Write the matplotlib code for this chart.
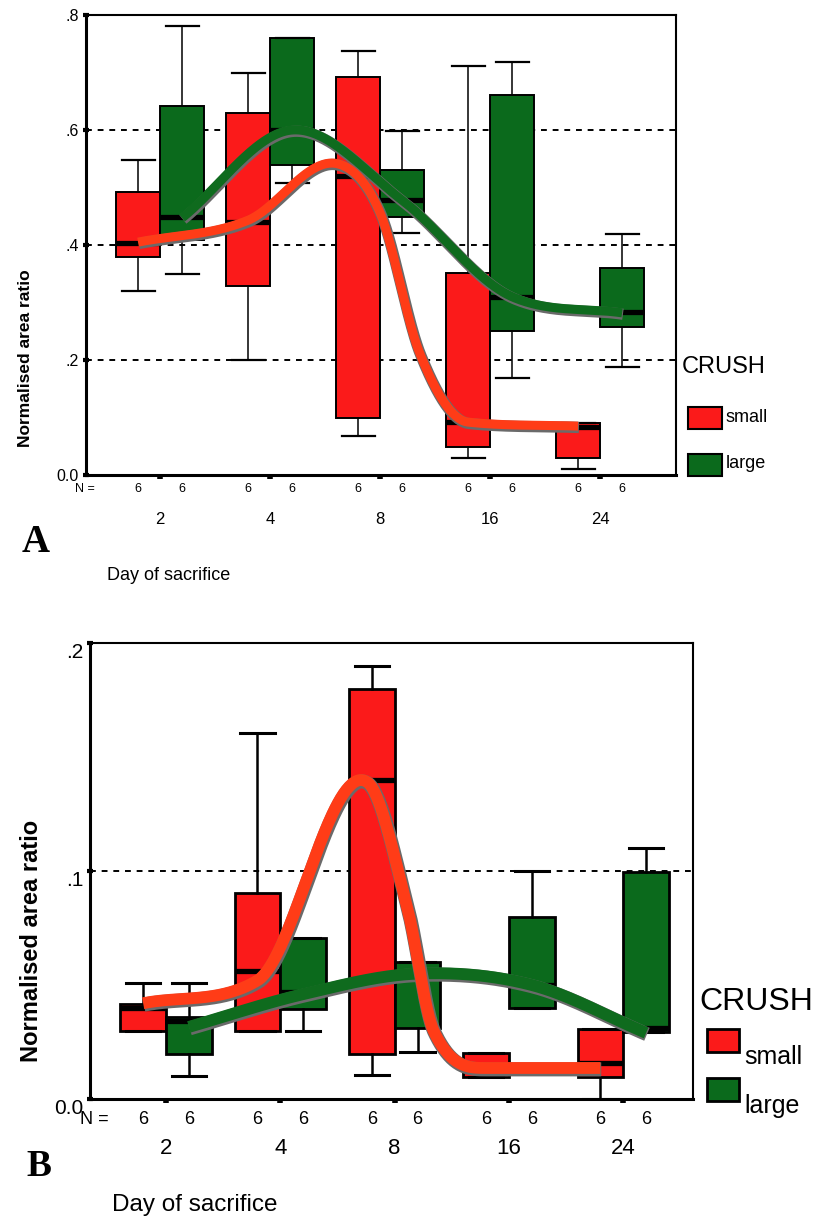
import numpy as np
import matplotlib
matplotlib.use('Agg')
import matplotlib.pyplot as plt
import matplotlib.patheffects as pe
from matplotlib.patches import Rectangle

plt.rcParams['font.family'] = ['Liberation Sans', 'DejaVu Sans']

W, H = 814, 1219

days = ['2', '4', '8', '16', '24']
n_small = [6, 6, 6, 6, 6]
n_large = [6, 6, 6, 6, 6]

# panel A box stats: whisker low, q1, median, q3, whisker high
a_small_lo = [0.32, 0.20, 0.068, 0.03, 0.01]
a_small_q1 = [0.379, 0.329, 0.10, 0.049, 0.03]
a_small_med = [0.403, 0.44, 0.52, 0.092, 0.083]
a_small_q3 = [0.492, 0.63, 0.692, 0.352, 0.09]
a_small_hi = [0.548, 0.70, 0.738, 0.711, 0.09]

a_large_lo = [0.35, 0.508, 0.421, 0.169, 0.188]
a_large_q1 = [0.409, 0.54, 0.449, 0.25, 0.258]
a_large_med = [0.449, 0.60, 0.478, 0.31, 0.283]
a_large_q3 = [0.642, 0.76, 0.53, 0.661, 0.36]
a_large_hi = [0.781, 0.76, 0.598, 0.718, 0.42]

# panel B box stats
b_small_lo = [0.030, 0.030, 0.0105, 0.0096, 0.0]
b_small_q1 = [0.030, 0.030, 0.0197, 0.0096, 0.0096]
b_small_med = [0.040, 0.056, 0.140, 0.013, 0.0158]
b_small_q3 = [0.0417, 0.0904, 0.180, 0.020, 0.0307]
b_small_hi = [0.051, 0.1605, 0.190, 0.020, 0.0307]

b_large_lo = [0.010, 0.030, 0.0206, 0.040, 0.0294]
b_large_q1 = [0.0197, 0.0395, 0.031, 0.040, 0.0294]
b_large_med = [0.034, 0.047, 0.055, 0.050, 0.031]
b_large_q3 = [0.036, 0.0706, 0.060, 0.080, 0.0996]
b_large_hi = [0.051, 0.0706, 0.060, 0.100, 0.110]

# trend curves (x in day-group units)
a_small_fit_x = [0.8, 1.8, 2.62, 3.0, 3.36, 3.8, 4.8]
a_small_fit_y = [0.405, 0.443, 0.541, 0.456, 0.212, 0.092, 0.085]
a_large_fit_x = [1.2, 2.2, 3.2, 4.2, 5.2]
a_large_fit_y = [0.447, 0.60, 0.478, 0.31, 0.282]
b_small_fit_x = [0.8, 1.8, 2.76, 3.11, 3.34, 3.8, 4.8]
b_small_fit_y = [0.042, 0.052, 0.139, 0.084, 0.030, 0.0136, 0.0136]
b_large_fit_x = [1.2, 2.2, 3.2, 4.2, 5.2]
b_large_fit_y = [0.0316, 0.046, 0.055, 0.050, 0.029]

RED = '#fb1a1a'
GREEN = '#0b6a1c'
RED_LINE = '#ff3c17'
GREEN_LINE = '#0f6b1e'


def smooth(xk, yk, n=80):
    # cubic hermite: catmull-rom tangents, clamped on monotone runs
    xk = np.asarray(xk, float)
    yk = np.asarray(yk, float)
    d = np.diff(yk) / np.diff(xk)
    m = np.empty_like(yk)
    m[0], m[-1] = d[0], d[-1]
    for i in range(1, len(yk) - 1):
        a, b = d[i - 1], d[i]
        if a == 0 or b == 0:
            m[i] = 0.0
        elif a * b < 0:
            m[i] = (a + b) / 2
        else:
            lim = 3 * min(abs(a), abs(b))
            m[i] = np.sign(a) * min(abs(a + b) / 2, lim)
    xs, ys = [], []
    t = np.linspace(0, 1, n)
    for i in range(len(xk) - 1):
        h = xk[i + 1] - xk[i]
        h00 = 2 * t**3 - 3 * t**2 + 1
        h10 = t**3 - 2 * t**2 + t
        h01 = -2 * t**3 + 3 * t**2
        h11 = t**3 - t**2
        ys.append(h00 * yk[i] + h10 * h * m[i] + h01 * yk[i + 1] + h11 * h * m[i + 1])
        xs.append(xk[i] + t * h)
    return np.concatenate(xs), np.concatenate(ys)


def stats(lo, q1, med, q3, hi):
    return [dict(whislo=a, q1=b, med=c, q3=d, whishi=e, fliers=[])
            for a, b, c, d, e in zip(lo, q1, med, q3, hi)]


def px(x, y):
    return x / W, 1 - y / H


def panel(ax, small, large, fits, ylim, yticks, ylabels, s):
    pos = np.arange(1, 6)
    for st, off, col in [(small, -0.2, RED), (large, 0.2, GREEN)]:
        ax.bxp(st, positions=pos + off, widths=0.4, capwidths=0.3,
               patch_artist=True, showfliers=False, manage_ticks=False,
               boxprops=dict(facecolor=col, edgecolor='black', linewidth=s['box']),
               medianprops=dict(color='black', linewidth=s['med'], solid_capstyle='butt'),
               whiskerprops=dict(color='black', linewidth=s['whisk']),
               capprops=dict(color='black', linewidth=s['cap']))
    for fx, fy, col in fits:
        xs, ys = smooth(fx, fy)
        ax.plot(xs, ys, color=col, lw=s['curve'], solid_capstyle='butt', zorder=5,
                path_effects=[pe.Stroke(linewidth=s['curve'] + 1.6, foreground='#6a6a6a',
                                        offset=(0.6, -1.0)), pe.Normal()])
    for g in s['grid']:
        ax.axhline(g, color='black', lw=s['gridlw'], linestyle=(0, (3, 3)), zorder=0.5)
    ax.set_ylim(*ylim)
    ax.set_xlim(*s['xlim'])
    ax.set_yticks(yticks)
    ax.set_yticklabels(ylabels, fontsize=s['ytick'])
    ax.set_xticks(pos)
    ax.set_xticklabels(days, fontsize=s['xtick'])
    ax.tick_params(axis='y', direction='inout', length=4, width=3, pad=3)
    ax.tick_params(axis='x', direction='out', length=3, width=4, pad=s['xpad'])
    for sp in ax.spines.values():
        sp.set_linewidth(1.5)
    ax.spines['left'].set_linewidth(2.2)
    ax.spines['bottom'].set_linewidth(2.2)
    for p, n in zip(pos, n_small):
        ax.annotate(str(n), xy=(p - 0.2, 0), xycoords=('data', 'axes fraction'),
                    xytext=(0, -s['npad']), textcoords='offset points',
                    ha='center', va='center', fontsize=s['nfs'])
    for p, n in zip(pos, n_large):
        ax.annotate(str(n), xy=(p + 0.2, 0), xycoords=('data', 'axes fraction'),
                    xytext=(0, -s['npad']), textcoords='offset points',
                    ha='center', va='center', fontsize=s['nfs'])


fig = plt.figure(figsize=(W / 100, H / 100), dpi=100)

# ---- panel A ----
axA = fig.add_axes([86 / W, 1 - 475 / H, 590 / W, 460 / H])
sA = dict(box=1.4, med=3.8, whisk=1.1, cap=1.6, curve=6.5, gridlw=1.4,
          grid=[0.2, 0.4, 0.6], xlim=(0.327, 5.69), ytick=11.5, xtick=12,
          xpad=24, npad=10, nfs=9)
panel(axA,
      stats(a_small_lo, a_small_q1, a_small_med, a_small_q3, a_small_hi),
      stats(a_large_lo, a_large_q1, a_large_med, a_large_q3, a_large_hi),
      [(a_large_fit_x, a_large_fit_y, GREEN_LINE), (a_small_fit_x, a_small_fit_y, RED_LINE)],
      (0, 0.8), [0, 0.2, 0.4, 0.6, 0.8], ['0.0', '.2', '.4', '.6', '.8'], sA)
fig.text(*px(26, 358), 'Normalised area ratio', rotation=90, ha='center', va='center',
         fontsize=12.5, fontweight='bold')
fig.text(*px(75, 489), 'N =', ha='left', va='center', fontsize=9)
fig.text(*px(22, 543), 'A', ha='left', va='center', fontsize=28, fontweight='bold',
         family='Liberation Serif')
fig.text(*px(107, 575), 'Day of sacrifice', ha='left', va='center', fontsize=13)

fig.text(*px(682, 367), 'CRUSH', ha='left', va='center', fontsize=17)
for y0, col, lab in [(407, RED, 'small'), (454, GREEN, 'large')]:
    x, y = px(688, y0 + 22)
    fig.add_artist(Rectangle((x, y), 34 / W, 22 / H, facecolor=col, edgecolor='black',
                             linewidth=1.5, transform=fig.transFigure))
    fig.text(*px(726, y0 + 10), lab, ha='left', va='center', fontsize=13)

# ---- panel B ----
axB = fig.add_axes([90 / W, 1 - 1099 / H, 603 / W, 456 / H])
sB = dict(box=2.0, med=3.8, whisk=1.8, cap=2.2, curve=8.5, gridlw=1.4,
          grid=[0.1], xlim=(0.335, 5.61), ytick=15, xtick=16,
          xpad=25, npad=15, nfs=13)
panel(axB,
      stats(b_small_lo, b_small_q1, b_small_med, b_small_q3, b_small_hi),
      stats(b_large_lo, b_large_q1, b_large_med, b_large_q3, b_large_hi),
      [(b_large_fit_x, b_large_fit_y, GREEN_LINE), (b_small_fit_x, b_small_fit_y, RED_LINE)],
      (0, 0.2), [0, 0.1, 0.2], ['0.0', '.1', '.2'], sB)
for lab in axB.get_yticklabels():
    lab.set_verticalalignment('top')
fig.text(*px(31, 941), 'Normalised area ratio', rotation=90, ha='center', va='center',
         fontsize=17, fontweight='bold')
fig.text(*px(80, 1120), 'N =', ha='left', va='center', fontsize=13)
fig.text(*px(26, 1167), 'B', ha='left', va='center', fontsize=27, fontweight='bold',
         family='Liberation Serif')
fig.text(*px(112, 1205), 'Day of sacrifice', ha='left', va='center', fontsize=17.5)

fig.text(*px(699, 1002), 'CRUSH', ha='left', va='center', fontsize=23)
for y0, col, lab in [(1029, RED, 'small'), (1078, GREEN, 'large')]:
    x, y = px(707, y0 + 23)
    fig.add_artist(Rectangle((x, y), 32 / W, 23 / H, facecolor=col, edgecolor='black',
                             linewidth=2.0, transform=fig.transFigure))
    fig.text(*px(744, y0 + 28), lab, ha='left', va='center', fontsize=18)

fig.savefig('out.png', dpi=100, facecolor='white')
